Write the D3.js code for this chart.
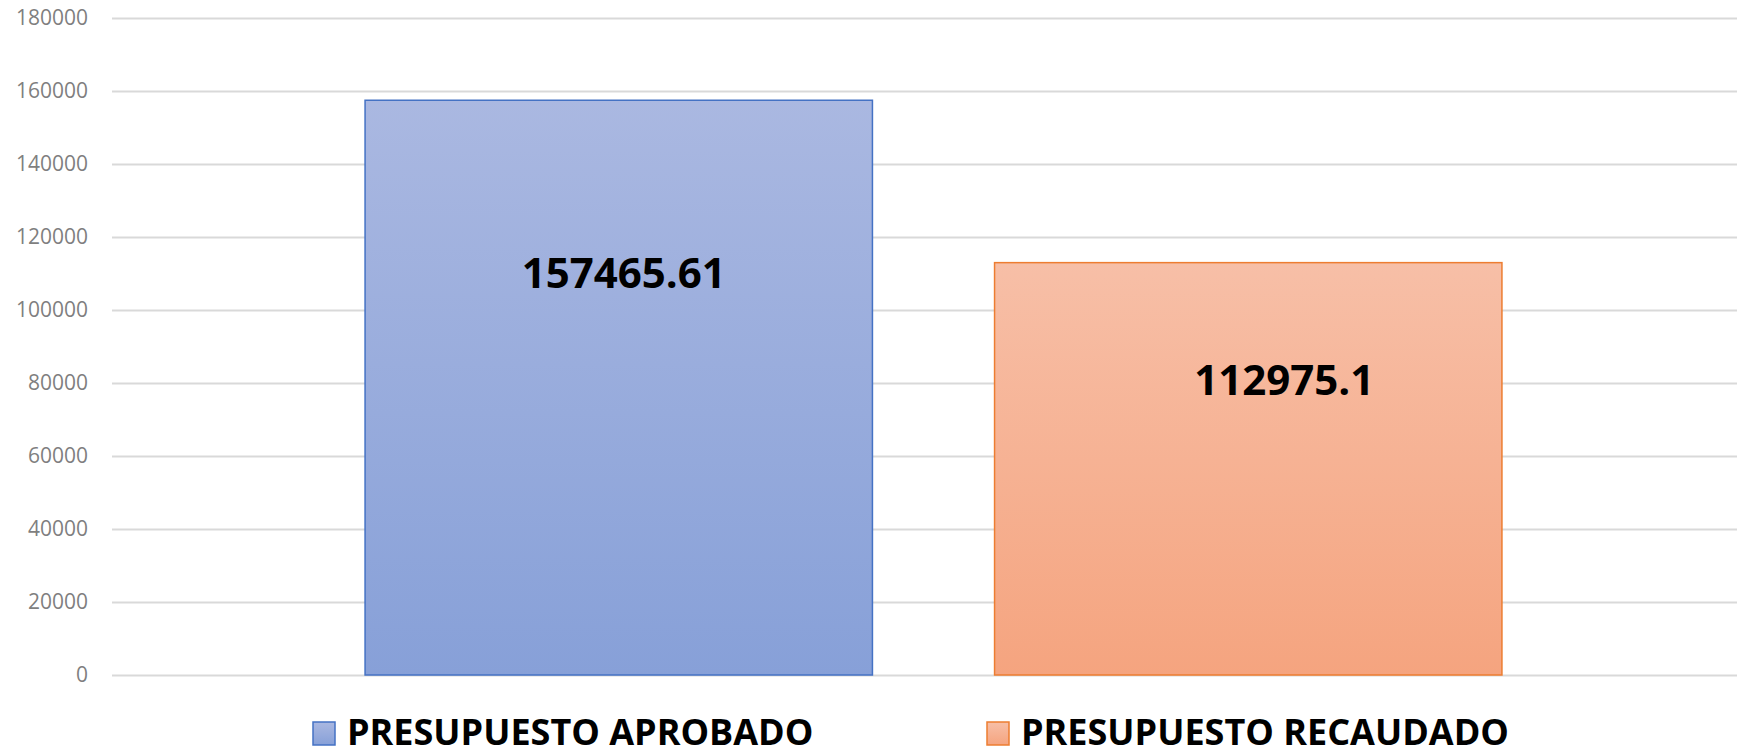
<!DOCTYPE html>
<html>
<head>
<meta charset="utf-8">
<script src="https://cdn.jsdelivr.net/npm/d3@7"></script>
<style>
  body { margin: 0; background: #fff; }
  svg { display: block; font-family: 'Open Sans', sans-serif; }
  .axis-label { fill: #7F7F7F; font-size: 21px; }
  .value-label { font-size: 42px; font-weight: bold; fill: #000; }
  .legend-text { font-size: 36px; font-weight: bold; fill: #000; }
</style>
</head>
<body>
<div id="chart"></div>
<script>
// Chart data
const series = ['PRESUPUESTO APROBADO', 'PRESUPUESTO RECAUDADO'];
const values = [157465.61, 112975.1];
const yTicks = [0, 20000, 40000, 60000, 80000, 100000, 120000, 140000, 160000, 180000];

// Colours for each series
const strokeColors = ['#4472C4', '#ED7D31'];
const gradTop = ['#AAB8E1', '#F7BFA7'];
const gradBottom = ['#87A0D8', '#F5A47F'];

const width = 1737;
const height = 755;
const margin = { top: 18, right: -18, bottom: 80, left: 112 };

// Data label nudges (as placed in the original)
const labelDx = [5, 36];
const labelDy = [188, 132];
const legendX = [313, 987];

const svg = d3.select('#chart').append('svg')
  .attr('width', width)
  .attr('height', height);

const defs = svg.append('defs');
series.forEach((s, i) => {
  const g = defs.append('linearGradient')
    .attr('id', 'grad' + i)
    .attr('x1', 0).attr('y1', 0).attr('x2', 0).attr('y2', 1);
  g.append('stop').attr('offset', '0%').attr('stop-color', gradTop[i]);
  g.append('stop').attr('offset', '100%').attr('stop-color', gradBottom[i]);
});

const x = d3.scaleBand()
  .domain(series)
  .range([margin.left, width - margin.right])
  .paddingInner(0.194)
  .paddingOuter(0.402);

const y = d3.scaleLinear()
  .domain([0, 180000])
  .range([height - margin.bottom, margin.top]);

// Gridlines and y labels
const yAxis = svg.append('g')
  .attr('transform', `translate(${margin.left}, 0)`)
  .call(d3.axisLeft(y)
    .tickValues(yTicks)
    .tickSize(-(width - margin.left - margin.right))
    .tickPadding(24)
    .tickFormat(d3.format('d')))
  .attr('font-family', null)
  .attr('font-size', null);

yAxis.select('.domain').remove();
yAxis.selectAll('.tick line')
  .attr('stroke', '#D9D9D9')
  .attr('stroke-width', 2);
yAxis.selectAll('.tick text')
  .attr('class', 'axis-label')
  .attr('fill', null);

// Bars
svg.selectAll('.bar')
  .data(series)
  .join('rect')
  .attr('class', 'bar')
  .attr('x', d => x(d))
  .attr('y', (d, i) => y(values[i]))
  .attr('width', x.bandwidth())
  .attr('height', (d, i) => y(0) - y(values[i]))
  .attr('fill', (d, i) => `url(#grad${i})`)
  .attr('stroke', (d, i) => strokeColors[i])
  .attr('stroke-width', 1.5);

// Value labels
svg.selectAll('.value-label')
  .data(series)
  .join('text')
  .attr('class', 'value-label')
  .attr('text-anchor', 'middle')
  .attr('x', (d, i) => x(d) + x.bandwidth() / 2 + labelDx[i])
  .attr('y', (d, i) => y(values[i]) + labelDy[i])
  .text((d, i) => values[i]);

// Legend
const legend = svg.selectAll('.legend')
  .data(series)
  .join('g')
  .attr('class', 'legend')
  .attr('transform', (d, i) => `translate(${legendX[i]}, 722)`);

legend.append('rect')
  .attr('width', 22)
  .attr('height', 23)
  .attr('fill', (d, i) => `url(#grad${i})`)
  .attr('stroke', (d, i) => strokeColors[i])
  .attr('stroke-width', 1.5);

legend.append('text')
  .attr('class', 'legend-text')
  .attr('x', 34)
  .attr('y', 23)
  .text(d => d);
</script>
</body>
</html>
